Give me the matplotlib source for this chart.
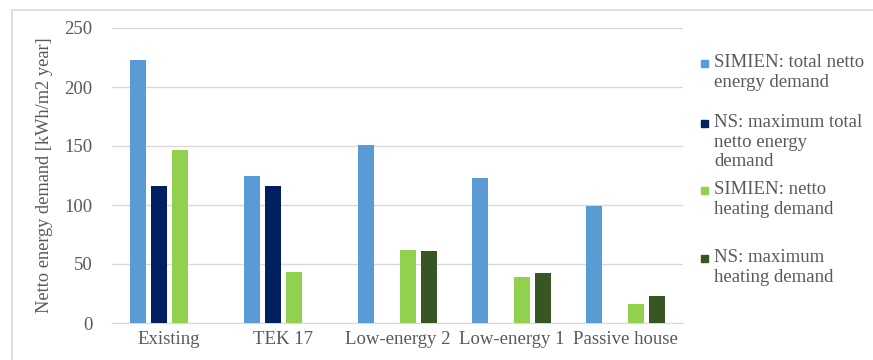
import matplotlib.pyplot as plt
import numpy as np
from matplotlib.patches import Rectangle

categories = ['Existing', 'TEK 17', 'Low-energy 2', 'Low-energy 1', 'Passive house']
simien_total = [223, 125, 151, 123, 99]
ns_max_total = [116, 116, np.nan, np.nan, np.nan]
simien_heating = [147, 43, 62, 39, 16]
ns_max_heating = [np.nan, np.nan, 61, 42, 23]

series_labels = ['SIMIEN: total netto\nenergy demand',
                 'NS: maximum total\nnetto energy\ndemand',
                 'SIMIEN: netto\nheating demand',
                 'NS: maximum\nheating demand']
colors = ['#5B9BD5', '#002060', '#92D050', '#375623']

W, H = 873, 360
plt.rcParams['font.family'] = ['Liberation Serif', 'DejaVu Serif']
FS = 13.5
TXT = '#595959'

fig = plt.figure(figsize=(W / 100, H / 100), dpi=100)
fig.patches.append(Rectangle((12 / W, -0.1), 1.2, 1.1 - 10 / H, transform=fig.transFigure,
                             fill=False, edgecolor='#d9d9d9', lw=1.2))

ax = fig.add_axes([112 / W, 1 - 323 / H, (683 - 112) / W, (323 - 28) / H])
x = np.arange(len(categories))
step, width = 0.184, 0.14
for j, vals in enumerate([simien_total, ns_max_total, simien_heating, ns_max_heating]):
    ax.bar(x + (j - 1.5) * step, vals, width=width, color=colors[j], zorder=3)

ax.set_xlim(-0.5, len(categories) - 0.5)
ax.set_ylim(0, 250)
ax.set_yticks(range(0, 251, 50))
ax.set_xticks(x)
ax.set_xticklabels(categories)
ax.tick_params(length=0, labelsize=FS, colors=TXT, pad=6)
ax.tick_params(axis='y', pad=14)
ax.grid(axis='y', color='#d9d9d9', lw=1, zorder=0)
for s in ['top', 'right', 'left']:
    ax.spines[s].set_visible(False)
ax.spines['bottom'].set_color('#d9d9d9')
ax.set_ylabel('Netto energy demand [kWh/m2 year]', fontsize=13.2, color=TXT, labelpad=8)

# legend drawn by hand to mimic the uneven spacing
legend_tops = [63, 123, 190, 258]
for lbl, c, ytop in zip(series_labels, colors, legend_tops):
    fig.patches.append(Rectangle((701 / W, 1 - (ytop + 4) / H), 7 / W, 7 / H,
                                 transform=fig.transFigure, color=c))
    fig.text(714 / W, 1 - (ytop - 9) / H, lbl, fontsize=FS, color=TXT,
             va='top', ha='left', linespacing=1.2)

fig.savefig('out.png', dpi=100)
